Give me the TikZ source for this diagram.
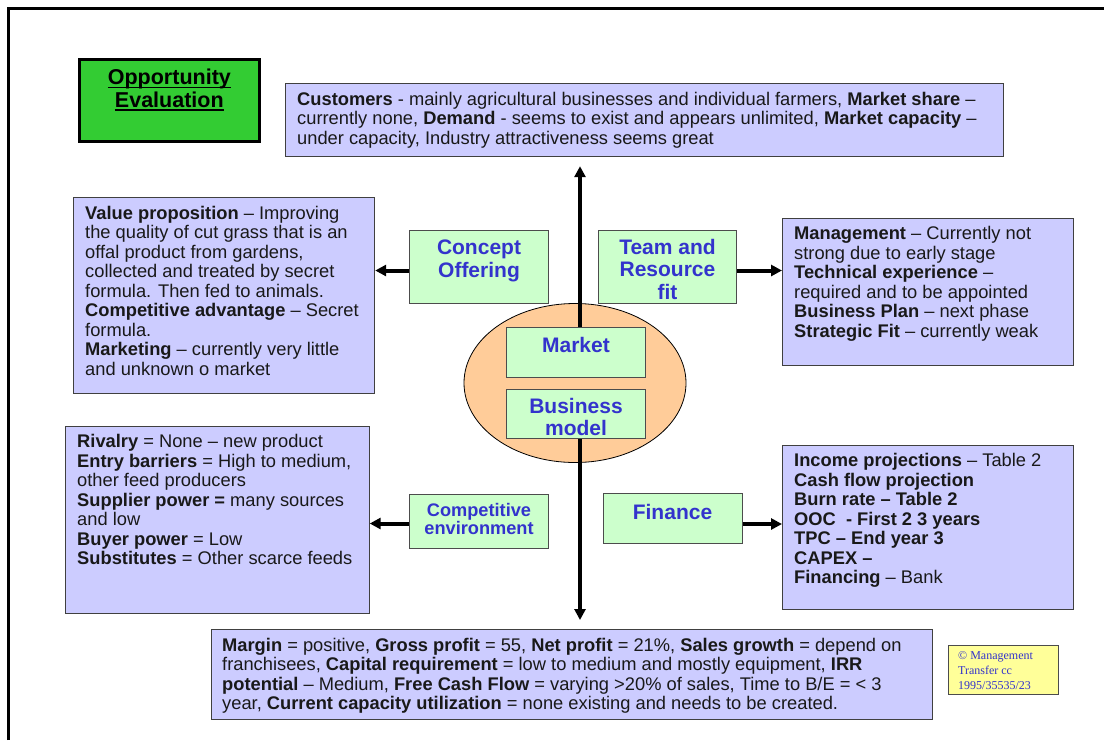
\documentclass[tikz,border=0pt]{standalone}
\usepackage{fontspec}
\setmainfont{Liberation Sans}
\newfontfamily\ccfont{Liberation Serif}
\usetikzlibrary{positioning,calc,arrows.meta,shapes.geometric}
\definecolor{SlideLilac}{RGB}{204,204,255}
\definecolor{SlideMint}{RGB}{204,255,204}
\definecolor{SlidePeach}{RGB}{255,204,153}
\definecolor{SlideGreen}{RGB}{51,204,51}
\definecolor{SlideBlue}{RGB}{51,51,204}
\definecolor{SlideYellow}{RGB}{255,255,153}
\newsavebox{\oppsave}
\newcommand{\oppline}[1]{\sbox{\oppsave}{#1}\rlap{\rule[-3.6pt]{\wd\oppsave}{1.8pt}}\usebox{\oppsave}}

\begin{document}
\begin{tikzpicture}[
        x=1pt, y=-1pt,
        % --- STYLES ---
        infobox/.style={
            rectangle, anchor=north west,
            draw=black!75, line width=1.2pt,
            fill=SlideLilac, inner sep=0pt
        },
        infotext/.style={
            anchor=north west, align=left, inner sep=0pt,
            font=\fontsize{18.3}{19.5}\selectfont, text=black!90
        },
        tagbox/.style={
            rectangle, anchor=north west,
            draw=black!70, line width=1pt,
            fill=SlideMint, inner sep=0pt
        },
        tagtext/.style={
            anchor=north, align=center, inner sep=0pt,
            font=\fontsize{21}{22.5}\selectfont\bfseries, text=SlideBlue
        },
        bigarrow/.style={
            line width=4pt,
            -{Triangle[length=11pt,width=11pt]}
        }
    ]
    \useasboundingbox (0,0) rectangle (1104,740);

    % --- FRAME ---
    \draw[line width=2.7pt] (8.7,740) -- (8.7,8.7) -- (1104,8.7);

    % --- TITLE ---
    \node[rectangle, anchor=north west, draw=black, line width=2.7pt, fill=SlideGreen,
          minimum width=180, minimum height=82, inner sep=0pt] (oppbox) at (78,58) {};
    \node[anchor=north, align=center, inner sep=0pt,
          font=\fontsize{21.5}{22.5}\selectfont\bfseries] (opptxt)
          at ([yshift=-11pt]oppbox.north) {\oppline{Opportunity}\\\oppline{Evaluation}};

    % --- CENTRE ---
    \node[ellipse, draw=black, line width=0.8pt, fill=SlidePeach,
          minimum width=222, minimum height=159, inner sep=0pt] (core) at (575,383) {};
    \node[tagbox, minimum width=139, minimum height=50] (market) at (506,327) {};
    \node[tagtext] (markettxt) at ([yshift=-10pt]market.north) {Market};
    \node[tagbox, minimum width=139, minimum height=49] (bizmodel) at (506,389) {};
    \node[tagtext] (bizmodeltxt) at ([yshift=-9pt]bizmodel.north) {Business\\model};

    % --- LABEL BOXES ---
    \node[tagbox, minimum width=139, minimum height=73] (concept) at (409,230) {};
    \node[tagtext] (concepttxt) at ([yshift=-10pt]concept.north) {Concept\\Offering};
    \node[tagbox, minimum width=138, minimum height=73] (team) at (598,230) {};
    \node[tagtext] (teamtxt) at ([yshift=-9pt]team.north) {Team and\\Resource\\fit};
    \node[tagbox, minimum width=139, minimum height=54] (compenv) at (409,494) {};
    \node[tagtext, font=\fontsize{18.2}{18.5}\selectfont\bfseries] (compenvtxt)
          at ([yshift=-9pt]compenv.north) {Competitive\\environment};
    \node[tagbox, minimum width=139, minimum height=50] (finance) at (602.5,493) {};
    \node[tagtext] (financetxt) at ([yshift=-11pt]finance.north) {Finance};

    % --- DETAIL BOXES ---
    \node[infobox, minimum width=718, minimum height=73] (custbox) at (285,83) {};
    \node[infotext] (custtxt) at ([shift={(12pt,-9pt)}]custbox.north west)
        {\textbf{Customers} - mainly agricultural businesses and individual farmers, \textbf{Market share} –\\
         currently none, \textbf{Demand} - seems to exist and appears unlimited, \textbf{Market capacity} –\\
         under capacity, Industry attractiveness seems great};

    \node[infobox, minimum width=301, minimum height=196] (valbox) at (73,197) {};
    \node[infotext] (valtxt) at ([shift={(12pt,-9pt)}]valbox.north west)
        {\textbf{Value proposition} – Improving\\
         the quality of cut grass that is an\\
         offal product from gardens,\\
         collected and treated by secret\\
         formula. Then fed to animals.\\
         \textbf{Competitive advantage} – Secret\\
         formula.\\
         \textbf{Marketing} – currently very little\\
         and unknown o market};

    \node[infobox, minimum width=291, minimum height=147] (mgmtbox) at (782,217.5) {};
    \node[infotext] (mgmttxt) at ([shift={(12pt,-9pt)}]mgmtbox.north west)
        {\textbf{Management} – Currently not\\
         strong due to early stage\\
         \textbf{Technical experience} –\\
         required and to be appointed\\
         \textbf{Business Plan} – next phase\\
         \textbf{Strategic Fit} – currently weak};

    \node[infobox, minimum width=304, minimum height=187] (rivalbox) at (64.5,425.5) {};
    \node[infotext] (rivaltxt) at ([shift={(12.5pt,-9pt)}]rivalbox.north west)
        {\textbf{Rivalry} = None – new product\\
         \textbf{Entry barriers} = High to medium,\\
         other feed producers\\
         \textbf{Supplier power =} many sources\\
         and low\\
         \textbf{Buyer power} = Low\\
         \textbf{Substitutes} = Other scarce feeds};

    \node[infobox, minimum width=291, minimum height=164] (finbox) at (782,444.5) {};
    \node[infotext] (fintxt) at ([shift={(12pt,-9pt)}]finbox.north west)
        {\textbf{Income projections} – Table 2\\
         \textbf{Cash flow projection}\\
         \textbf{Burn rate – Table 2}\\
         \textbf{OOC\ \ - First 2 3 years}\\
         \textbf{TPC – End year 3}\\
         \textbf{CAPEX –}\\
         \textbf{Financing} – Bank};

    \node[infobox, minimum width=721, minimum height=90] (marginbox) at (211,629) {};
    \node[infotext] (margintxt) at ([shift={(11pt,-9pt)}]marginbox.north west)
        {\textbf{Margin} = positive, \textbf{Gross profit} = 55, \textbf{Net profit} = 21\%, \textbf{Sales growth} = depend on\\
         franchisees, \textbf{Capital requirement} = low to medium and mostly equipment, \textbf{IRR}\\
         \textbf{potential} – Medium, \textbf{Free Cash Flow} = varying >20\% of sales, Time to B/E = < 3\\
         year, \textbf{Current capacity utilization} = none existing and needs to be created.};

    % --- COPYRIGHT ---
    \node[rectangle, anchor=north west, draw=black!70, line width=0.8pt, fill=SlideYellow,
          minimum width=110, minimum height=49, inner sep=0pt] (ccbox) at (948,645) {};
    \node[anchor=north west, align=left, inner sep=0pt, text=SlideBlue,
          font=\ccfont\fontsize{12}{15}\selectfont] (cctxt)
          at ([shift={(10pt,-6pt)}]ccbox.north west) {\textcopyright{} Management\\Transfer cc\\1995/35535/23};

    % --- ARROWS ---
    \coordinate (spinetop) at ([xshift=4pt]market.north);
    \coordinate (spinebot) at ([xshift=4pt]bizmodel.south);
    \draw[bigarrow, line width=4.5pt, shorten >=9pt] (spinetop) -- (spinetop |- custbox.south);
    \draw[bigarrow, line width=4.5pt, shorten >=9pt] (spinebot) -- (spinebot |- marginbox.north);

    \coordinate (conceptout) at ([yshift=-3.5pt]concept.west);
    \coordinate (teamout) at ([yshift=-3.5pt]team.east);
    \coordinate (compout) at ([yshift=-2pt]compenv.west);
    \coordinate (finout) at ([yshift=-5.5pt]finance.east);
    \draw[bigarrow] (conceptout) -- (conceptout -| valbox.east);
    \draw[bigarrow] (teamout) -- (teamout -| mgmtbox.west);
    \draw[bigarrow] (compout) -- (compout -| rivalbox.east);
    \draw[bigarrow] (finout) -- (finout -| finbox.west);

\end{tikzpicture}
\end{document}
